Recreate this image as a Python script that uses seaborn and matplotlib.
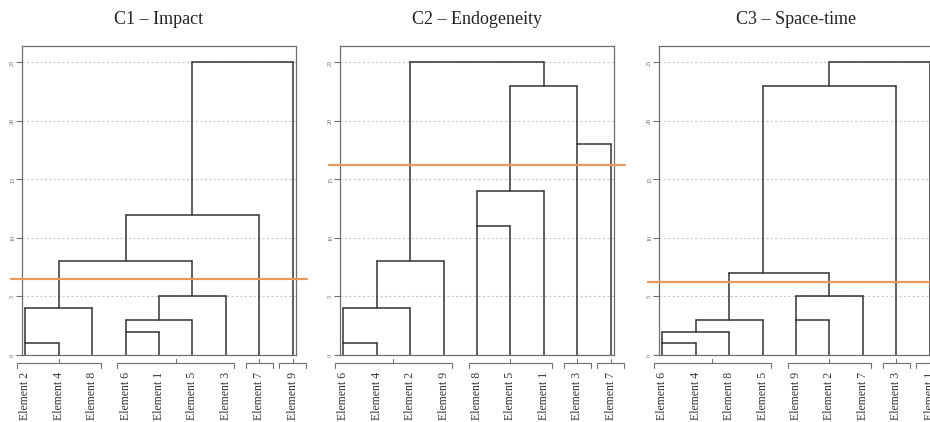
import numpy as np
import pandas as pd
import seaborn as sns
import matplotlib.pyplot as plt
import matplotlib.transforms as mtransforms

# panel titles
titles = ["C1 \u2013 Impact", "C2 \u2013 Endogeneity", "C3 \u2013 Space-time"]

# leaf order on the x axis, per panel
c1_leaves = ["Element 2", "Element 4", "Element 8", "Element 6", "Element 1",
             "Element 5", "Element 3", "Element 7", "Element 9"]
c2_leaves = ["Element 6", "Element 4", "Element 2", "Element 9", "Element 8",
             "Element 5", "Element 1", "Element 3", "Element 7"]
c3_leaves = ["Element 6", "Element 4", "Element 8", "Element 5", "Element 9",
             "Element 2", "Element 7", "Element 3", "Element 1"]

# merges: (cluster a, cluster b, height); leaves are 0..8, new clusters 9, 10, ...
c1_merges = [(0, 1, 1), (9, 2, 4), (3, 4, 2), (11, 5, 3), (12, 6, 5),
             (10, 13, 8), (14, 7, 12), (15, 8, 25)]
c2_merges = [(0, 1, 1), (9, 2, 4), (10, 3, 8), (4, 5, 11), (12, 6, 14),
             (7, 8, 18), (13, 14, 23), (11, 15, 25)]
c3_merges = [(0, 1, 1), (9, 2, 2), (10, 3, 3), (4, 5, 3), (12, 6, 5),
             (11, 13, 7), (14, 7, 23), (15, 8, 25)]

# cut heights (orange lines)
cuts = [6.5, 16.2, 6.2]

y_ticks = [0, 5, 10, 15, 20, 25]


def tree_segments(n, merges):
    pos = list(range(n))
    hgt = [0] * n
    span = [(i, i) for i in range(n)]
    kids = {}
    rows = []
    s = 0
    for a, b, h in merges:
        xa, xb = pos[a], pos[b]
        for x0, y0, x1, y1 in [(xa, hgt[a], xa, h), (xb, hgt[b], xb, h), (xa, h, xb, h)]:
            rows.append((s, x0, y0))
            rows.append((s, x1, y1))
            s += 1
        kids[len(pos)] = (a, b)
        pos.append(np.floor((xa + xb) / 2))
        hgt.append(h)
        span.append((min(span[a][0], span[b][0]), max(span[a][1], span[b][1])))
    df = pd.DataFrame(rows, columns=["seg", "x", "y"])
    return df, hgt, span, kids


def cut_groups(root, cut, hgt, span, kids):
    if hgt[root] <= cut:
        return [span[root]]
    a, b = kids[root]
    return cut_groups(a, cut, hgt, span, kids) + cut_groups(b, cut, hgt, span, kids)


sns.set_style("white")
plt.rcParams["font.family"] = ["Liberation Serif", "DejaVu Serif"]

fig = plt.figure(figsize=(9.3, 4.22), dpi=100)
lefts = [22 / 930, 340 / 930, 659 / 930]
line_col = "#333333"
frame_col = "#6e6e6e"

panels = [(c1_leaves, c1_merges), (c2_leaves, c2_merges), (c3_leaves, c3_merges)]
for i, (leaves, merges) in enumerate(panels):
    ax = fig.add_axes([lefts[i], 67 / 422, 274 / 930, 309 / 422])
    n = len(leaves)
    df, hgt, span, kids = tree_segments(n, merges)

    for yv in y_ticks[1:]:
        ax.axhline(yv, color="#c8c8c8", lw=0.8, ls=(0, (2, 2)), zorder=0)

    sns.lineplot(data=df, x="x", y="y", units="seg", estimator=None, sort=False,
                 color=line_col, lw=1.1, ax=ax)

    ax.axhline(cuts[i], xmin=-0.04, xmax=1.04, color="#e89a5c", lw=1.6,
               clip_on=False, zorder=3)

    ax.set_xlim(-0.1, n - 0.9)
    ax.set_ylim(0, 26.4)
    ax.set_xticks([])
    ax.set_yticks(y_ticks)
    ax.set_yticklabels([str(t) for t in y_ticks], rotation=90, va="center",
                       fontsize=4.5, color="#666666")
    ax.tick_params(axis="y", length=4, width=0.8, color=frame_col, pad=1, left=True)
    ax.set_xlabel("")
    ax.set_ylabel("")
    for sp in ax.spines.values():
        sp.set_color(frame_col)
        sp.set_linewidth(0.9)
    ax.set_title(titles[i], fontsize=13, pad=16, color="#222222")

    # brackets for the groups under the cut line
    trans = mtransforms.blended_transform_factory(ax.transData, ax.transAxes)
    groups = cut_groups(len(hgt) - 1, cuts[i], hgt, span, kids)
    for g0, g1 in groups:
        pad = 0.4 if g0 == g1 else 0.25
        xl, xr = g0 - pad, g1 + pad
        xm = (g0 + g1) / 2
        ax.plot([xl, xl, xr, xr], [-0.042, -0.026, -0.026, -0.042], color=frame_col,
                lw=0.8, transform=trans, clip_on=False)
        ax.plot([xm, xm], [-0.026, -0.013], color=frame_col, lw=0.8,
                transform=trans, clip_on=False)

    for j, lab in enumerate(leaves):
        ax.text(j, -0.054, lab, rotation=90, ha="center", va="top", fontsize=8.5,
                color="#333333", transform=trans, clip_on=False)

fig.savefig("out.png", dpi=100)
